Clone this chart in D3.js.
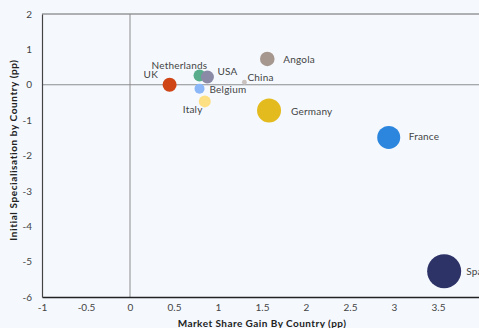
<!DOCTYPE html>
<html><head><meta charset="utf-8">
<script src="https://cdn.jsdelivr.net/npm/d3@7"></script>
<style>
html,body{margin:0;padding:0;background:#f5f9fe;}
svg{display:block;font-family:"Lato","Open Sans",sans-serif;}
</style></head><body>
<svg id="c" width="479" height="328"></svg>
<script>
const countries = ["UK","Netherlands","USA","Belgium","Italy","China","Angola","Germany","France","Spain"];
const marketShareGain = [0.45,0.79,0.88,0.79,0.85,1.3,1.56,1.58,2.94,3.57];
const initialSpecialisation = [0.0,0.26,0.22,-0.11,-0.47,0.07,0.73,-0.73,-1.49,-5.27];
const bubbleSize = [49,36,42,25,36,6,53,144,132,289];
const colors = ["#cf4516","#5aad8c","#8a8aa6","#8bb6f7","#fddf84","#c9c2bf","#a6988f","#e4bb1f","#2c86de","#2d3267"];
const labelDx = [-26,-48,10,10,-22,3,16,22,20,22];
const labelDy = [-7,-7,-2,4,12,-1,4,4,3,4];
const xTicks = [-1,-0.5,0,0.5,1,1.5,2,2.5,3,3.5,4];
const yTicks = [2,1,0,-1,-2,-3,-4,-5,-6];

const svg = d3.select("#c");
const x = d3.scaleLinear().domain([-1,4]).range([42,482]);
const y = d3.scaleLinear().domain([-6,2]).range([297,14]);
const r = d3.scaleSqrt().domain([0,289]).range([0,17]);

// frame
svg.append("line").attr("x1",x(-1)).attr("x2",x(4)).attr("y1",y(2)).attr("y2",y(2)).attr("stroke","#666").attr("stroke-width",1);
// zero lines
svg.append("line").attr("x1",x(0)).attr("x2",x(0)).attr("y1",y(2)).attr("y2",y(-6)).attr("stroke","#8c8c8c").attr("stroke-width",1);
svg.append("line").attr("x1",x(-1)).attr("x2",x(4)).attr("y1",y(0)).attr("y2",y(0)).attr("stroke","#8c8c8c").attr("stroke-width",1);

const xAxis = svg.append("g").attr("transform",`translate(0,${y(-6)})`)
  .call(d3.axisBottom(x).tickValues(xTicks).tickSize(0).tickPadding(7).tickFormat(d=>String(d)));
xAxis.select(".domain").attr("stroke","#222").attr("stroke-width",1.5);
xAxis.selectAll("text").attr("fill","#444").style("font-size","10px").style("font-family","Lato, sans-serif");

const yAxis = svg.append("g").attr("transform",`translate(${x(-1)},0)`)
  .call(d3.axisLeft(y).tickValues(yTicks).tickSize(0).tickPadding(10).tickFormat(d=>String(d)));
yAxis.select(".domain").attr("stroke","#444").attr("stroke-width",1.2);
yAxis.selectAll("text").attr("fill","#444").style("font-size","10px").style("font-family","Lato, sans-serif");

const data = countries.map((c,i)=>({c,x:marketShareGain[i],y:initialSpecialisation[i],s:bubbleSize[i],col:colors[i],dx:labelDx[i],dy:labelDy[i]}));

svg.append("g").selectAll("circle").data(data).join("circle")
  .attr("cx",d=>x(d.x)).attr("cy",d=>y(d.y)).attr("r",d=>r(d.s)).attr("fill",d=>d.col);

svg.append("g").selectAll("text").data(data).join("text")
  .attr("x",d=>x(d.x)+d.dx).attr("y",d=>y(d.y)+d.dy)
  .attr("fill","#444").style("font-size","10px").style("letter-spacing","0.2px").text(d=>d.c);

svg.append("text").attr("x",262).attr("y",327).attr("text-anchor","middle")
  .attr("fill","#222").style("font-size","10px").style("font-weight","bold").style("letter-spacing","0.45px")
  .text("Market Share Gain By Country (pp)");
svg.append("text").attr("transform",`translate(17,150) rotate(-90)`).attr("text-anchor","middle")
  .attr("fill","#222").style("font-size","10px").style("font-weight","bold").style("letter-spacing","0.6px")
  .text("Initial Specialisation by Country (pp)");
</script>
</body></html>
